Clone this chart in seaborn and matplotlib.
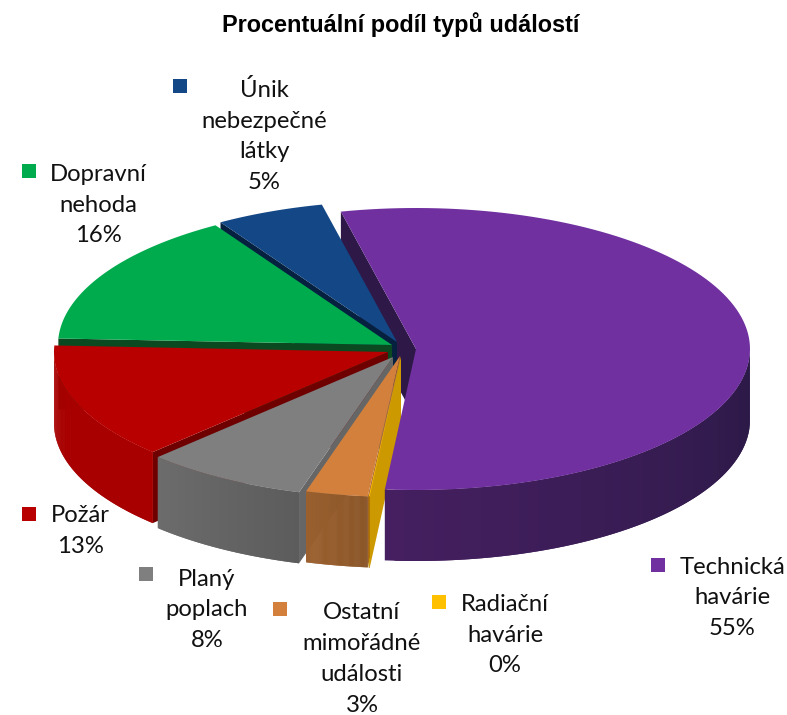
import numpy as np
import matplotlib
matplotlib.use("Agg")
import matplotlib.pyplot as plt
import seaborn as sns

# Data, clockwise from the top of the pie
categories = [
    "Technická\nhavárie",
    "Radiační\nhavárie",
    "Ostatní\nmimořádné\nudálosti",
    "Planý\npoplach",
    "Požár",
    "Dopravní\nnehoda",
    "Únik\nnebezpečné\nlátky",
]
shares = [55.1, 0.05, 3.0, 7.9, 13.3, 15.4, 5.25]
percent_labels = ["55%", "0%", "3%", "8%", "13%", "16%", "5%"]

# Colours
top_colors = ["#7030a0", "#ffc000", "#d2803c", "#7f7f7f", "#b80000", "#00ab4e", "#134785"]
cut_colors = ["#2e1848", "#cc9a00", "#a86a36", "#666666", "#6e0000", "#0b4a20", "#06213f"]
wall_left = ["#451f60", "#cc9a00", "#9c602e", "#6c6c6c", "#a80000", "#0b4a20", "#06213f"]
wall_right = ["#2a1946", "#cc9a00", "#8a5528", "#5c5c5c", "#a80000", "#0b4a20", "#06213f"]

# Layout (pixels)
RX, RY = 334, 141
DEPTH = 71
START_ANGLE = 103
apex_x = [416, 401, 400, 393, 388, 392, 397]
apex_y = [349, 356, 356, 357, 352, 345, 342]
marker_x = [658, 439, 280, 146, 29, 29, 180]
marker_y = [565, 602, 609, 574, 514, 171, 86]
text_x = [732, 505, 362, 207, 80, 98, 264]
text_y = [598, 635, 659, 610, 531, 205, 136]

sns.set_theme(style="white")
plt.rcParams["font.family"] = ["Lato", "DejaVu Sans"]

fig, ax = plt.subplots(figsize=(7.87, 7.15), dpi=100)
ax.set_position([0, 0, 1, 1])
ax.set_xlim(0, 787)
ax.set_ylim(715, 0)
ax.axis("off")

# Angles of every slice
edges = START_ANGLE - np.cumsum([0] + shares) * 3.6


def rim(i, angles):
    rad = np.radians(angles)
    return apex_x[i] + RX * np.cos(rad), apex_y[i] - RY * np.sin(rad)


def draw_cut(i):
    x, y = rim(i, np.array([edges[i]]))
    ax.fill([x[0], apex_x[i], apex_x[i], x[0]],
            [y[0], apex_y[i], apex_y[i] + DEPTH, y[0] + DEPTH],
            color=cut_colors[i], lw=0)


def draw_body(i):
    # outer wall, only the part facing the viewer
    angles = np.linspace(edges[i + 1], edges[i], 120)
    front = angles[np.sin(np.radians(angles)) < 0]
    if len(front) > 1:
        shades = sns.blend_palette([wall_left[i], wall_right[i]], n_colors=len(front))
        # quads overlap the next one so no seams show up
        for k in range(len(front) - 1):
            x, y = rim(i, front[k:k + 3])
            ax.fill(np.r_[x, x[::-1]], np.r_[y, y[::-1] + DEPTH],
                    color=shades[k], lw=0)
    # top face
    x, y = rim(i, angles)
    ax.fill(np.r_[apex_x[i], x], np.r_[apex_y[i], y], color=top_colors[i], lw=0)


# back to front, the big slice goes last because its top covers the others' walls
draw_cut(0)
for i in [6, 5, 4, 3, 2, 1]:
    draw_cut(i)
    draw_body(i)
draw_body(0)

# Legend squares and labels sit next to each other around the pie
sns.scatterplot(x=marker_x, y=marker_y, hue=categories, palette=top_colors,
                marker="s", s=105, linewidth=0, legend=False, ax=ax, zorder=5)

for i, name in enumerate(categories):
    ax.text(text_x[i], text_y[i], name + "\n" + percent_labels[i], ha="center", va="center",
            multialignment="center", fontsize=17.2, color="#111111", linespacing=1.57)

ax.text(401, 25, "Procentuální podíl typů událostí", ha="center", va="center",
        fontsize=16.9, fontweight="bold", family="Liberation Sans", color="black")

fig.savefig("out.png", dpi=100)
